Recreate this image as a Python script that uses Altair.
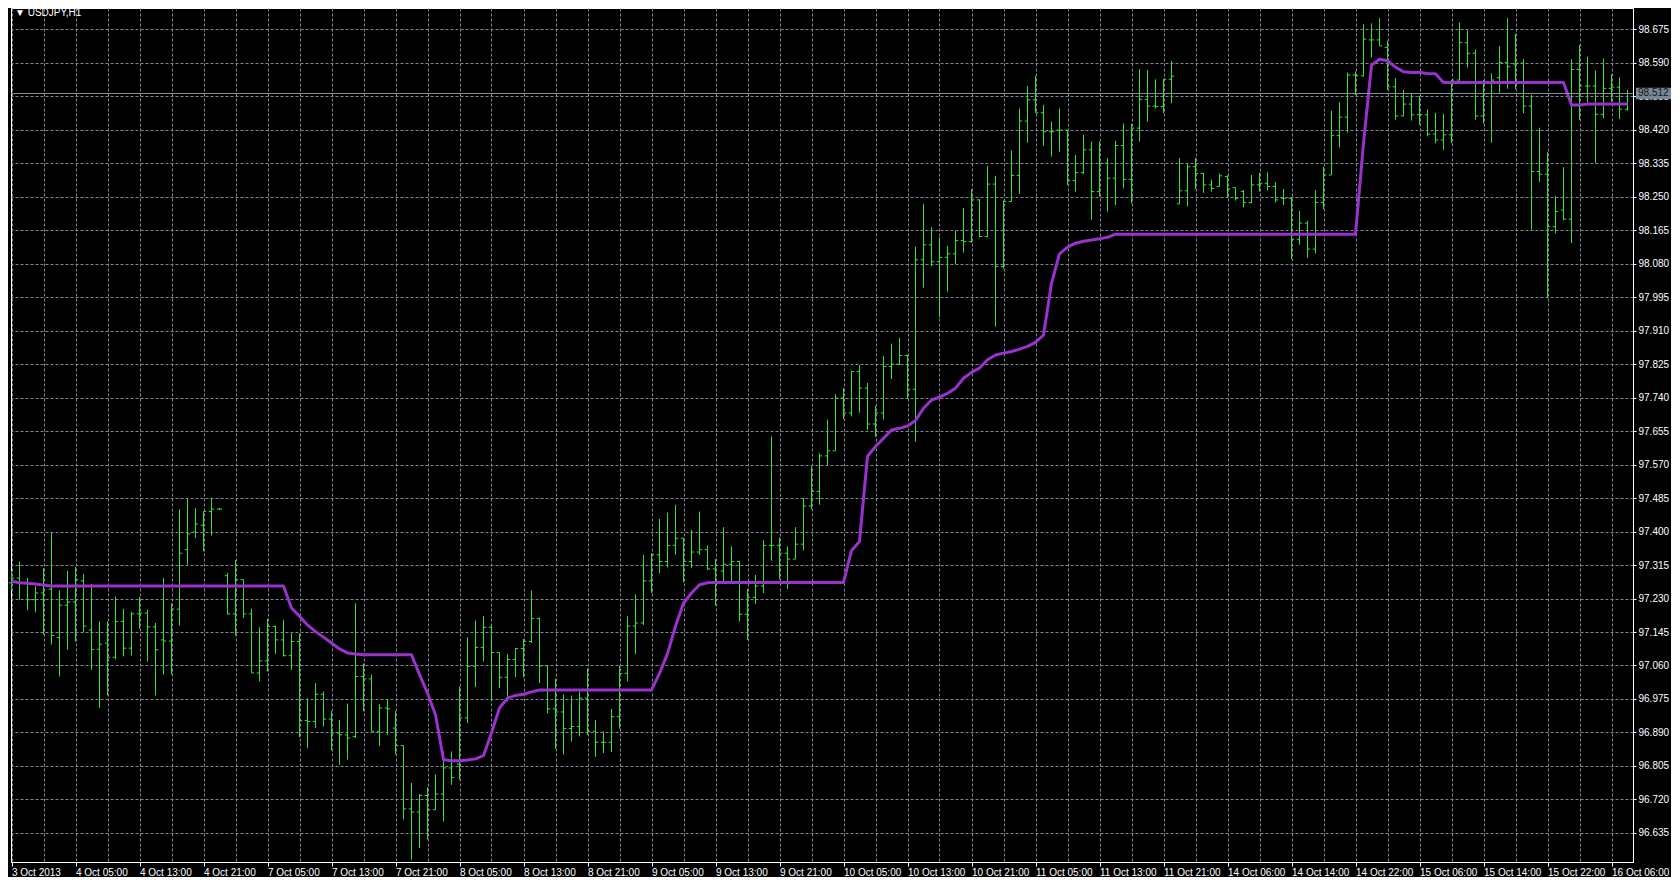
import altair as alt
import pandas as pd

# ---------------- data (USDJPY H1) ----------------
opens = [
    97.270, 97.282, 97.271, 97.227, 97.244, 97.254, 97.131, 97.213, 97.221, 97.275,
    97.150, 97.101, 97.117, 97.081, 97.172, 97.104, 97.191, 97.193, 97.158, 97.125,
    97.122, 97.203, 97.354, 97.399, 97.416, 97.451, 97.457, 97.288, 97.191, 97.278,
    97.191, 97.041, 97.072, 97.159, 97.125, 97.085, 97.121, 96.920, 96.918, 96.987,
    96.924, 96.889, 96.884, 96.880, 97.032, 97.026, 96.893, 96.952, 96.901, 96.857,
    96.696, 96.688, 96.730, 96.694, 96.734, 96.800, 96.810, 96.927, 97.058, 97.106,
    97.157, 97.093, 97.030, 97.075, 97.103, 97.121, 97.179, 97.059, 96.950, 96.942,
    96.900, 96.905, 96.977, 96.893, 96.865, 96.865, 96.930, 97.040, 97.160, 97.168,
    97.275, 97.341, 97.324, 97.365, 97.383, 97.324, 97.348, 97.354, 97.305, 97.300,
    97.317, 97.324, 97.190, 97.233, 97.262, 97.365, 97.365, 97.345, 97.330, 97.368,
    97.465, 97.502, 97.592, 97.605, 97.739, 97.701, 97.806, 97.764, 97.673, 97.701,
    97.819, 97.825, 97.847, 97.761, 98.090, 98.128, 98.085, 98.096, 98.105, 98.139,
    98.136, 98.242, 98.149, 98.282, 98.073, 98.238, 98.304, 98.442, 98.496, 98.463,
    98.415, 98.419, 98.419, 98.291, 98.311, 98.369, 98.263, 98.335, 98.297, 98.380,
    98.294, 98.424, 98.497, 98.480, 98.479, 98.548, 98.232, 98.265, 98.326, 98.309,
    98.280, 98.276, 98.301, 98.273, 98.263, 98.235, 98.280, 98.284, 98.276, 98.246,
    98.246, 98.142, 98.183, 98.117, 98.235, 98.305, 98.405, 98.452, 98.559, 98.557,
    98.648, 98.648, 98.629, 98.529, 98.455, 98.485, 98.458, 98.458, 98.409, 98.394,
    98.407, 98.546, 98.641, 98.614, 98.455, 98.512, 98.552, 98.591, 98.587, 98.589,
    98.480, 98.314, 98.307, 98.174, 98.216, 98.193, 98.573, 98.531, 98.531, 98.459,
    98.525, 98.528, 98.472,
]
highs = [
    97.300, 97.324, 97.282, 97.261, 97.307, 97.399, 97.251, 97.301, 97.310, 97.293,
    97.267, 97.172, 97.172, 97.235, 97.204, 97.196, 97.234, 97.202, 97.168, 97.282,
    97.218, 97.457, 97.483, 97.460, 97.451, 97.486, 97.460, 97.295, 97.328, 97.278,
    97.204, 97.157, 97.179, 97.161, 97.176, 97.142, 97.142, 96.977, 97.015, 96.994,
    96.944, 96.922, 96.963, 97.218, 97.065, 97.037, 96.962, 96.975, 96.944, 96.857,
    96.762, 96.734, 96.751, 96.783, 96.842, 96.842, 97.007, 97.132, 97.174, 97.186,
    97.162, 97.093, 97.089, 97.104, 97.127, 97.250, 97.182, 97.059, 97.026, 96.986,
    96.984, 96.994, 97.053, 96.922, 96.893, 96.950, 97.060, 97.185, 97.240, 97.341,
    97.345, 97.432, 97.448, 97.468, 97.383, 97.404, 97.451, 97.365, 97.330, 97.411,
    97.362, 97.326, 97.254, 97.290, 97.379, 97.641, 97.385, 97.362, 97.411, 97.485,
    97.565, 97.599, 97.684, 97.749, 97.764, 97.808, 97.823, 97.777, 97.719, 97.846,
    97.877, 97.891, 97.849, 98.123, 98.232, 98.172, 98.147, 98.125, 98.163, 98.221,
    98.269, 98.244, 98.328, 98.303, 98.240, 98.367, 98.474, 98.531, 98.557, 98.483,
    98.441, 98.474, 98.419, 98.356, 98.407, 98.390, 98.390, 98.348, 98.392, 98.436,
    98.435, 98.574, 98.572, 98.548, 98.548, 98.595, 98.348, 98.335, 98.348, 98.311,
    98.293, 98.309, 98.304, 98.273, 98.267, 98.305, 98.311, 98.312, 98.287, 98.270,
    98.249, 98.214, 98.189, 98.267, 98.326, 98.468, 98.490, 98.565, 98.568, 98.688,
    98.690, 98.703, 98.646, 98.551, 98.521, 98.511, 98.506, 98.472, 98.463, 98.460,
    98.546, 98.692, 98.672, 98.624, 98.546, 98.563, 98.633, 98.703, 98.663, 98.599,
    98.508, 98.425, 98.363, 98.252, 98.325, 98.599, 98.635, 98.606, 98.570, 98.601,
    98.561, 98.553, 98.521,
]
lows = [
    97.250, 97.227, 97.200, 97.195, 97.138, 97.113, 97.032, 97.100, 97.121, 97.144,
    97.049, 96.952, 96.984, 97.075, 97.083, 97.085, 97.153, 97.070, 96.984, 97.037,
    97.037, 97.161, 97.316, 97.383, 97.350, 97.390, 97.455, 97.189, 97.136, 97.180,
    97.041, 97.020, 97.045, 97.090, 97.083, 97.049, 96.878, 96.850, 96.901, 96.905,
    96.845, 96.808, 96.821, 96.876, 96.944, 96.893, 96.855, 96.884, 96.834, 96.669,
    96.567, 96.597, 96.618, 96.694, 96.664, 96.757, 96.770, 96.914, 97.005, 97.070,
    96.971, 97.003, 96.969, 97.030, 97.030, 97.117, 97.015, 96.939, 96.848, 96.834,
    96.867, 96.880, 96.884, 96.828, 96.838, 96.840, 96.900, 97.020, 97.090, 97.163,
    97.244, 97.294, 97.309, 97.341, 97.271, 97.307, 97.341, 97.303, 97.212, 97.273,
    97.273, 97.172, 97.125, 97.216, 97.244, 97.326, 97.278, 97.254, 97.330, 97.352,
    97.457, 97.468, 97.569, 97.605, 97.685, 97.692, 97.702, 97.658, 97.640, 97.684,
    97.787, 97.823, 97.737, 97.628, 98.019, 98.074, 97.944, 98.009, 98.079, 98.108,
    98.133, 98.147, 98.147, 97.920, 98.068, 98.238, 98.257, 98.387, 98.463, 98.379,
    98.352, 98.364, 98.280, 98.263, 98.308, 98.191, 98.250, 98.212, 98.229, 98.271,
    98.233, 98.390, 98.441, 98.474, 98.462, 98.487, 98.232, 98.225, 98.269, 98.260,
    98.263, 98.276, 98.248, 98.240, 98.223, 98.233, 98.263, 98.266, 98.235, 98.229,
    98.091, 98.128, 98.094, 98.106, 98.218, 98.305, 98.375, 98.413, 98.508, 98.555,
    98.604, 98.633, 98.521, 98.445, 98.455, 98.443, 98.432, 98.403, 98.386, 98.369,
    98.386, 98.545, 98.578, 98.445, 98.436, 98.387, 98.514, 98.524, 98.523, 98.462,
    98.166, 98.288, 97.992, 98.157, 98.191, 98.132, 98.445, 98.489, 98.335, 98.449,
    98.491, 98.447, 98.468,
]
closes = [
    97.282, 97.271, 97.227, 97.244, 97.265, 97.136, 97.213, 97.221, 97.278, 97.160,
    97.101, 97.114, 97.081, 97.172, 97.104, 97.191, 97.193, 97.158, 97.100, 97.122,
    97.203, 97.345, 97.394, 97.419, 97.451, 97.457, 97.457, 97.191, 97.278, 97.191,
    97.041, 97.072, 97.159, 97.125, 97.085, 97.121, 96.920, 96.918, 96.987, 96.924,
    96.889, 96.884, 96.876, 97.032, 97.026, 96.893, 96.952, 96.950, 96.857, 96.696,
    96.688, 96.730, 96.694, 96.734, 96.800, 96.776, 96.927, 97.058, 97.106, 97.157,
    97.093, 97.030, 97.075, 97.103, 97.121, 97.179, 97.059, 96.950, 96.942, 96.900,
    96.905, 96.977, 96.893, 96.865, 96.865, 96.930, 97.040, 97.160, 97.168, 97.275,
    97.341, 97.324, 97.365, 97.383, 97.324, 97.348, 97.354, 97.305, 97.271, 97.317,
    97.324, 97.190, 97.233, 97.262, 97.365, 97.365, 97.345, 97.330, 97.368, 97.465,
    97.502, 97.592, 97.605, 97.739, 97.701, 97.806, 97.764, 97.673, 97.701, 97.819,
    97.825, 97.847, 97.761, 98.090, 98.128, 98.085, 98.096, 98.105, 98.139, 98.136,
    98.242, 98.149, 98.282, 98.073, 98.238, 98.304, 98.442, 98.496, 98.463, 98.415,
    98.415, 98.419, 98.291, 98.311, 98.369, 98.263, 98.335, 98.297, 98.380, 98.294,
    98.424, 98.497, 98.480, 98.479, 98.548, 98.556, 98.265, 98.326, 98.309, 98.280,
    98.271, 98.303, 98.270, 98.246, 98.235, 98.280, 98.284, 98.276, 98.242, 98.246,
    98.142, 98.183, 98.117, 98.235, 98.305, 98.405, 98.452, 98.559, 98.557, 98.650,
    98.648, 98.633, 98.529, 98.455, 98.485, 98.458, 98.458, 98.409, 98.394, 98.407,
    98.546, 98.641, 98.614, 98.455, 98.512, 98.546, 98.591, 98.580, 98.589, 98.480,
    98.314, 98.307, 98.174, 98.212, 98.193, 98.573, 98.531, 98.531, 98.459, 98.525,
    98.528, 98.472, 98.512,
]
indicator = [
    97.274, 97.270, 97.269, 97.267, 97.264, 97.262, 97.262, 97.262, 97.262, 97.262,
    97.262, 97.262, 97.262, 97.262, 97.262, 97.262, 97.262, 97.262, 97.262, 97.262,
    97.262, 97.262, 97.262, 97.262, 97.262, 97.262, 97.262, 97.262, 97.262, 97.262,
    97.262, 97.262, 97.262, 97.262, 97.262, 97.206, 97.185, 97.163, 97.146, 97.132,
    97.117, 97.102, 97.092, 97.089, 97.087, 97.087, 97.087, 97.087, 97.087, 97.087,
    97.087, 97.037, 96.990, 96.935, 96.821, 96.818, 96.818, 96.820, 96.823, 96.831,
    96.889, 96.952, 96.977, 96.984, 96.987, 96.993, 96.998, 96.998, 96.998, 96.998,
    96.998, 96.998, 96.998, 96.998, 96.998, 96.998, 96.998, 96.998, 96.998, 96.998,
    96.998, 97.040, 97.090, 97.160, 97.218, 97.244, 97.265, 97.270, 97.271, 97.271,
    97.271, 97.271, 97.271, 97.271, 97.271, 97.271, 97.271, 97.271, 97.271, 97.271,
    97.271, 97.271, 97.271, 97.271, 97.271, 97.352, 97.375, 97.591, 97.616, 97.637,
    97.658, 97.662, 97.668, 97.682, 97.713, 97.734, 97.741, 97.751, 97.764, 97.789,
    97.804, 97.815, 97.836, 97.848, 97.853, 97.857, 97.863, 97.870, 97.880, 97.899,
    98.030, 98.105, 98.122, 98.132, 98.137, 98.140, 98.143, 98.147, 98.155, 98.155,
    98.155, 98.155, 98.155, 98.155, 98.155, 98.155, 98.155, 98.155, 98.155, 98.155,
    98.155, 98.155, 98.155, 98.155, 98.155, 98.155, 98.155, 98.155, 98.155, 98.155,
    98.155, 98.155, 98.155, 98.155, 98.155, 98.155, 98.155, 98.155, 98.155, 98.386,
    98.584, 98.599, 98.595, 98.579, 98.567, 98.565, 98.565, 98.563, 98.562, 98.540,
    98.540, 98.540, 98.540, 98.540, 98.540, 98.540, 98.540, 98.540, 98.540, 98.540,
    98.540, 98.540, 98.540, 98.540, 98.540, 98.483, 98.483, 98.485, 98.485, 98.485,
    98.485, 98.485, 98.485,
]
tick_labels = [
    "3 Oct 2013", "4 Oct 05:00", "4 Oct 13:00", "4 Oct 21:00", "7 Oct 05:00",
    "7 Oct 13:00", "7 Oct 21:00", "8 Oct 05:00", "8 Oct 13:00", "8 Oct 21:00",
    "9 Oct 05:00", "9 Oct 13:00", "9 Oct 21:00", "10 Oct 05:00", "10 Oct 13:00",
    "10 Oct 21:00", "11 Oct 05:00", "11 Oct 13:00", "11 Oct 21:00", "14 Oct 06:00",
    "14 Oct 14:00", "14 Oct 22:00", "15 Oct 06:00", "15 Oct 14:00", "15 Oct 22:00",
    "16 Oct 06:00",
]
price_levels = [
    98.675, 98.590, 98.505, 98.420, 98.335, 98.250, 98.165, 98.080, 97.995,
    97.910, 97.825, 97.740, 97.655, 97.570, 97.485, 97.400, 97.315, 97.230,
    97.145, 97.060, 96.975, 96.890, 96.805, 96.720, 96.635,
]
last_price = 98.512
symbol_title = "\u25bc USDJPY,H1"

# ---------------- styling ----------------
GREEN = "#36e036"
PURPLE = "#9932CC"
GRID = "#7d8894"
CUR = "#8593a3"
FONT = "Liberation Sans"
W, H = 1622, 854

n = len(opens)
df = pd.DataFrame({"i": list(range(n)), "o": opens, "h": highs, "l": lows,
                   "c": closes, "ind": indicator})

xs = alt.Scale(domain=[-0.0625, 202.6875], nice=False, zero=False)
ys = alt.Scale(domain=[96.5612, 98.729], nice=False, zero=False)

label_js = "[" + ",".join("'" + s + "'" for s in tick_labels) + "]"
x_axis = alt.Axis(
    values=list(range(0, n, 4)),
    labelExpr=f"datum.value % 8 == 0 ? {label_js}[round(datum.value / 8)] : ''",
    orient="bottom", title=None,
    grid=True, gridColor=GRID, gridDash=[3, 2], gridWidth=1,
    domain=True, domainColor="white",
    ticks=True, tickColor="white", tickSize=4,
    tickOpacity={"condition": {"test": "datum.value % 8 == 0", "value": 1}, "value": 0},
    labelColor="white", labelFont=FONT, labelFontSize=10,
    labelAlign="left", labelBaseline="top", labelPadding=1,
    labelOverlap=False, labelFlush=False,
)
y_axis = alt.Axis(
    values=price_levels, format=".3f", orient="right", title=None,
    grid=True, gridColor=GRID, gridDash=[3, 2], gridWidth=1,
    domain=True, domainColor="white",
    ticks=True, tickColor="white", tickSize=3,
    labelColor="white", labelFont=FONT, labelFontSize=10,
    labelAlign="left", labelBaseline="middle", labelPadding=2,
    labelOverlap=False, labelFlush=False,
)


def X(field):
    return alt.X(field, scale=xs, axis=x_axis)


def Y(field):
    return alt.Y(field, scale=ys, axis=y_axis)


base = alt.Chart(df)

hl = base.mark_rule(color=GREEN, strokeWidth=1).encode(
    x=X("i:Q"), y=Y("l:Q"), y2="h:Q",
)
open_tick = base.transform_calculate(io="datum.i - 0.34").mark_rule(
    color=GREEN, strokeWidth=1).encode(
    x=X("io:Q"), x2="i:Q", y=Y("o:Q"),
)
close_tick = base.transform_calculate(ic="datum.i + 0.34").mark_rule(
    color=GREEN, strokeWidth=1).encode(
    x=X("i:Q"), x2="ic:Q", y=Y("c:Q"),
)
ind_line = base.mark_line(color=PURPLE, strokeWidth=3, strokeJoin="round").encode(
    x=X("i:Q"), y=Y("ind:Q"),
)

pdf = pd.DataFrame({"p": [last_price]})
cur_line = alt.Chart(pdf).mark_rule(color=CUR, strokeWidth=1).encode(
    y=Y("p:Q"),
)
cur_box = alt.Chart(pdf).transform_calculate(
    pt="datum.p + 0.0145", pb="datum.p - 0.0145"
).mark_rect(color="#778899").encode(
    x=alt.value(W + 3), x2=alt.value(W + 38),
    y=Y("pt:Q"), y2="pb:Q",
)
cur_text = alt.Chart(pdf).mark_text(
    align="left", baseline="middle", color="#101418", font=FONT, fontSize=10
).encode(
    x=alt.value(W + 5), y=Y("p:Q"),
    text=alt.Text("p:Q", format=".3f"),
)
title_text = alt.Chart(pd.DataFrame({"t": [symbol_title]})).mark_text(
    align="left", baseline="top", color="white", font=FONT, fontSize=10
).encode(x=alt.value(4), y=alt.value(0), text="t:N")

chart = alt.layer(
    hl, open_tick, close_tick, ind_line, cur_line, cur_box, cur_text, title_text
).properties(
    width=W, height=H, padding=0, background="black"
).configure_view(stroke="white", strokeWidth=1)

chart.save("out.html", embed_options={"renderer": "svg", "actions": False})
